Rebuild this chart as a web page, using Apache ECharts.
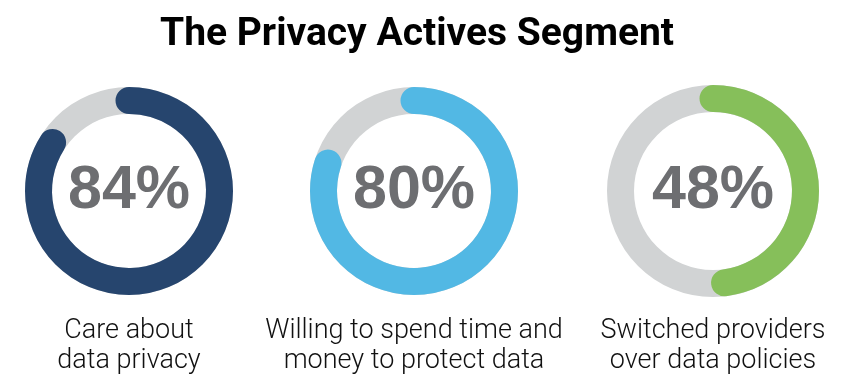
<!DOCTYPE html>
<html>
<head>
<meta charset="utf-8">
<script src="https://cdn.jsdelivr.net/npm/echarts@6/dist/echarts.min.js"></script>
<style>
html,body{margin:0;padding:0;background:#fff;}
#chart{width:850px;height:388px;}
</style>
</head>
<body>
<div id="chart"></div>
<script>
const chartTitle = 'The Privacy Actives Segment';
const categories = ['Care about\ndata privacy', 'Willing to spend time and\nmoney to protect data', 'Switched providers\nover data policies'];
const values = [84, 80, 48];
const colors = ['#26456e', '#52b8e4', '#86bf5a'];
const centersX = [129, 414, 713];
const radii = [104, 104, 106];

const chart = echarts.init(document.getElementById('chart'), null, {renderer: 'canvas'});
const series = values.map(function (v, i) {
  return {
    type: 'gauge',
    center: [centersX[i], 191],
    radius: radii[i],
    startAngle: 90,
    endAngle: -270,
    min: 0,
    max: 100,
    pointer: {show: false},
    axisTick: {show: false},
    splitLine: {show: false},
    axisLabel: {show: false},
    axisLine: {lineStyle: {width: 27, color: [[1, '#d1d3d4']]}},
    progress: {show: true, width: 27, roundCap: true, itemStyle: {color: colors[i]}},
    anchor: {show: false},
    title: {
      show: true,
      offsetCenter: [0, 155],
      fontFamily: 'Roboto',
      fontWeight: 300,
      fontSize: 27,
      lineHeight: 30,
      color: '#111'
    },
    detail: {
      offsetCenter: [0, 0],
      formatter: '{value}%',
      fontFamily: 'Liberation Sans',
      fontWeight: 'bold',
      fontSize: 61,
      color: '#6d6e71'
    },
    data: [{value: v, name: categories[i]}]
  };
});

chart.setOption({
  backgroundColor: '#fff',
  animation: false,
  title: {
    text: chartTitle,
    left: 412,
    textAlign: 'center',
    top: 11,
    textStyle: {fontFamily: 'Roboto', fontWeight: 'bold', fontSize: 39, color: '#000'}
  },
  series: series
});
</script>
</body>
</html>
